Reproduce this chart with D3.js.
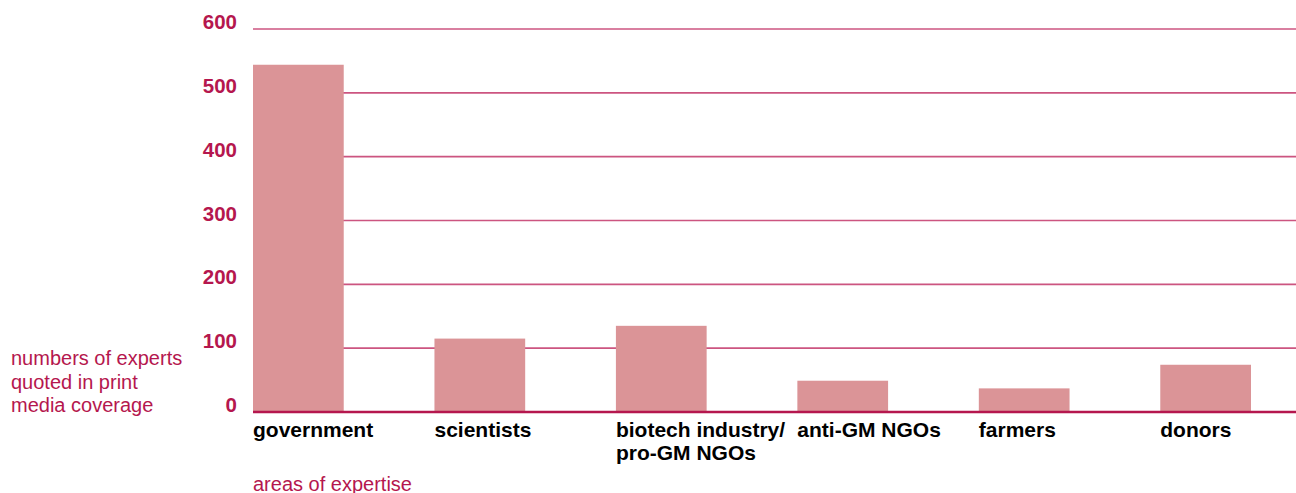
<!DOCTYPE html>
<html><head><meta charset="utf-8">
<script src="https://cdn.jsdelivr.net/npm/d3@7"></script>
<style>
html,body{margin:0;padding:0;background:#fff;}
svg{display:block;}
</style></head>
<body>
<svg id="chart" width="1296" height="493"></svg>
<script>
const categories = ["government", "scientists", "biotech industry/\npro-GM NGOs", "anti-GM NGOs", "farmers", "donors"];
const values = [544, 115, 135, 49, 37, 74];
const yTicks = [0, 100, 200, 300, 400, 500, 600];
const yTitle = ["numbers of experts", "quoted in print", "media coverage"];
const xTitle = "areas of expertise";

const svg = d3.select("#chart");
const crimson = "#b5174e";
const font = "'Liberation Sans', Arial, sans-serif";
const y = d3.scaleLinear().domain([0, 600]).range([412, 29]);
const x = d3.scaleBand().domain(categories).range([253, 1251]).paddingInner(0.5).paddingOuter(0).align(0);

// gridlines
svg.append("g").selectAll("line").data(yTicks.filter(d => d > 0)).join("line")
  .attr("x1", 253).attr("x2", 1296)
  .attr("y1", d => y(d)).attr("y2", d => y(d))
  .attr("stroke", "#cc5580").attr("stroke-width", 1.6);

// bars
svg.append("g").selectAll("rect").data(values).join("rect")
  .attr("x", (d, i) => x(categories[i]))
  .attr("width", x.bandwidth())
  .attr("y", d => y(d))
  .attr("height", d => y(0) - y(d))
  .attr("fill", "#db9497");

// baseline
svg.append("line").attr("x1", 253).attr("x2", 1296).attr("y1", y(0)).attr("y2", y(0))
  .attr("stroke", crimson).attr("stroke-width", 2.5);

// y tick labels
svg.append("g").selectAll("text").data(yTicks).join("text")
  .attr("x", 237).attr("y", d => y(d))
  .attr("text-anchor", "end")
  .attr("font-family", font)
  .attr("font-weight", "bold").attr("font-size", 20.5)
  .attr("fill", crimson)
  .text(d => d);

// x category labels
const xl = svg.append("g").selectAll("text").data(categories).join("text")
  .attr("x", d => x(d)).attr("y", 437)
  .attr("font-family", font)
  .attr("font-weight", "bold").attr("font-size", 21)
  .attr("fill", "#000");
xl.selectAll("tspan").data(d => d.split("\n")).join("tspan")
  .attr("x", function() { return this.parentNode.getAttribute("x"); })
  .attr("dy", (d, i) => i === 0 ? 0 : 23)
  .text(d => d);

// y title
svg.append("text")
  .attr("font-family", font)
  .attr("font-size", 20).attr("fill", crimson)
  .selectAll("tspan").data(yTitle).join("tspan")
  .attr("x", 11).attr("y", (d, i) => 365 + i * 23.5)
  .text(d => d);

// x title
svg.append("text").attr("x", 253).attr("y", 491)
  .attr("font-family", font)
  .attr("font-size", 20).attr("fill", crimson)
  .text(xTitle);
</script>
</body></html>
